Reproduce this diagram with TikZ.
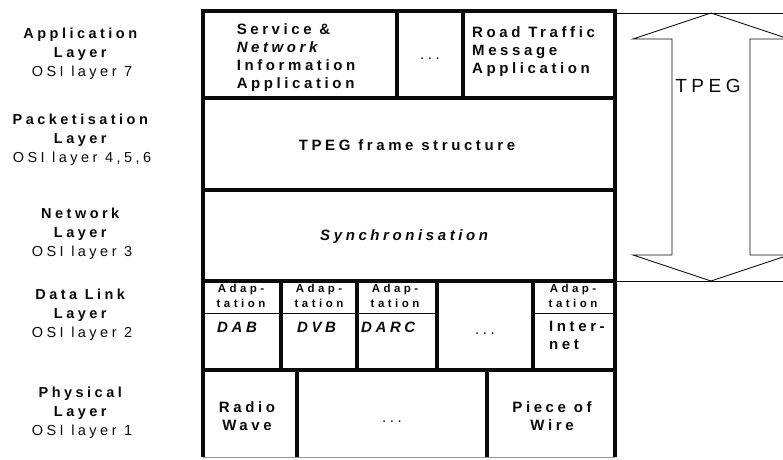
\documentclass[tikz,border=0pt]{standalone}
\usepackage{fontspec}
\setmainfont{Liberation Sans}
\newfontfamily\layerfont[LetterSpace=24]{Liberation Sans}
\newfontfamily\adapfont[LetterSpace=30]{Liberation Sans}
\usepackage{xcolor}
\usepackage{tikz}
\usetikzlibrary{calc}
\definecolor{tpegBlack}{RGB}{10,10,10}
\definecolor{tpegGray}{RGB}{150,150,150}

\tikzset{
  frameline/.style={tpegBlack, line width=3.2pt},
  thinline/.style={tpegBlack, line width=0.9pt},
  layertext/.style={text=tpegBlack, font=\layerfont\fontsize{14.5}{19}\selectfont, align=center, inner sep=0pt},
  celltext/.style={text=tpegBlack, font=\layerfont\bfseries\fontsize{15}{18}\selectfont, inner sep=0pt},
  adaptext/.style={text=tpegBlack, font=\adapfont\bfseries\fontsize{11.5}{15}\selectfont, align=center, inner sep=0pt},
  dotstext/.style={text=tpegBlack, font=\layerfont\fontsize{15}{18}\selectfont, inner sep=0pt}
}

\begin{document}
\begin{tikzpicture}[x=1pt,y=-1pt]
    \useasboundingbox (0,0) rectangle (783,459);
    \clip (0,0) rectangle (783,459);

    % layer names
    \node[layertext] (appL) at (82,54) {\textbf{Application}\\\textbf{Layer}\\OSI layer 7};
    \node[layertext] (pktL) at (82,140) {\textbf{Packetisation}\\\textbf{Layer}\\OSI layer 4,5,6};
    \node[layertext] (netL) at (82,234) {\textbf{Network}\\\textbf{Layer}\\OSI layer 3};
    \node[layertext] (dllL) at (82,315) {\textbf{Data Link}\\\textbf{Layer}\\OSI layer 2};
    \node[layertext] (phyL) at (82,413) {\textbf{Physical}\\\textbf{Layer}\\OSI layer 1};

    % outer frame
    \draw[frameline] (203,457)--(203,11)--(615,11)--(615,457);
    \draw[tpegGray, line width=0.8pt] (203,457)--(615,457);

    % row borders
    \draw[frameline] (203,98)--(615,98);
    \draw[frameline] (203,190)--(615,190);
    \draw[frameline] (203,281)--(615,281);
    \draw[frameline] (203,370)--(615,370);

    % application row
    \draw[frameline] (397,11)--(397,98);
    \draw[frameline] (463,11)--(463,98);
    \node[celltext, align=left] (sni) at (296,58) {Service \&\\\textit{Network}\\Information\\Application};
    \node[dotstext] (appdots) at (430,59) {...};
    \node[celltext, align=left, anchor=north west] (rtm) at (472,26) {Road Traffic\\Message\\Application};

    % packetisation and network rows
    \node[celltext] (frame) at (407,145) {TPEG frame structure};
    \node[celltext] (sync) at (406,237) {\textit{Synchronisation}};

    % data link row
    \draw[frameline] (281,281)--(281,370);
    \draw[frameline] (357,281)--(357,370);
    \draw[frameline] (437,281)--(437,370);
    \draw[frameline] (533,281)--(533,370);
    \draw[thinline] (203,313)--(437,313);
    \draw[thinline] (533,313)--(615,313);
    \node[adaptext] (adDAB) at (241,296) {Adap-\\tation};
    \node[adaptext] (adDVB) at (319,296) {Adap-\\tation};
    \node[adaptext] (adDARC) at (395,296) {Adap-\\tation};
    \node[adaptext] (adNet) at (573,296) {Adap-\\tation};
    \node[celltext, anchor=north west] (dab) at (217,322) {\textit{DAB}};
    \node[celltext, anchor=north west] (dvb) at (297,322) {\textit{DVB}};
    \node[celltext, anchor=north west] (darc) at (361,322) {\textit{DARC}};
    \node[dotstext] (dldots) at (485,334) {...};
    \node[celltext, align=left, anchor=north west] (inet) at (549,321) {Inter-\\net};

    % physical row
    \draw[frameline] (297,370)--(297,457);
    \draw[frameline] (487,370)--(487,457);
    \node[celltext, align=center] (radio) at (247,416) {Radio\\Wave};
    \node[dotstext] (phdots) at (392,422) {...};
    \node[celltext, align=center] (wire) at (552,416) {Piece of\\Wire};

    % TPEG span
    \draw[thinline] (615,13)--(783,13);
    \draw[thinline] (615,281)--(783,281);
    \draw[thinline, line join=miter] (711,13)--(789,39)--(750,39)--(750,255)--(789,255)
        --(711,281)--(633,255)--(672,255)--(672,39)--(633,39)--cycle;
    \node[layertext, font=\layerfont\fontsize{19}{22}\selectfont] (tpeg) at (708,86) {TPEG};
\end{tikzpicture}
\end{document}
